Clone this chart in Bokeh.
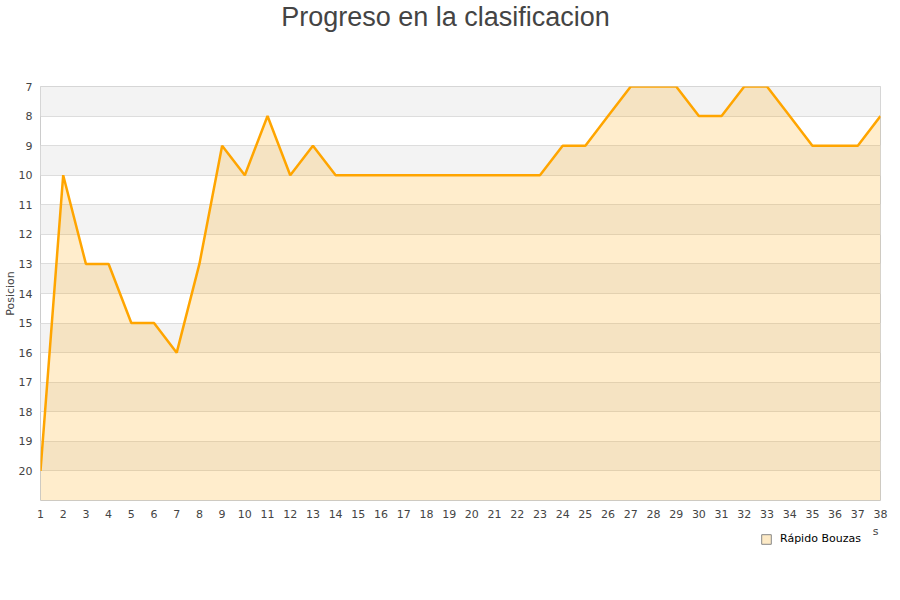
from bokeh.plotting import figure
from bokeh.models import Range1d, FixedTicker, Legend, LegendItem, ColumnDataSource, Label
from bokeh.layouts import column
from bokeh.embed import file_html
from bokeh.resources import INLINE

title_text = "Progreso en la clasificacion"
y_label = "Posicion"
x_label_tail = "s"
team = "Rápido Bouzas"
jornadas = list(range(1, 39))
posiciones = [20, 10, 13, 13, 15, 15, 16, 13, 9, 10, 8, 10, 9, 10, 10, 10, 10, 10, 10,
              10, 10, 10, 10, 9, 9, 8, 7, 7, 7, 8, 8, 7, 7, 8, 9, 9, 9, 8]
y_ticks = list(range(7, 21))
y_bottom = 21


def blank(h):
    # x in page pixels (frame aligned with the chart frame 40..880), y in pixels from bottom
    f = figure(width=900, height=h, output_backend="svg", toolbar_location=None,
               x_range=Range1d(40, 880), y_range=Range1d(0, h),
               x_axis_location=None, y_axis_location=None,
               min_border_left=40, min_border_right=20, min_border_top=0, min_border_bottom=0)
    f.grid.visible = False
    f.outline_line_color = None
    return f


# title strip
p_top = blank(80)
p_top.add_layout(Label(x=445, y=64, text=title_text, text_align="center", text_baseline="alphabetic",
                       text_font="Liberation Sans", text_font_size="27px", text_color="#444444"))

# main chart
p = figure(width=900, height=446, output_backend="svg", toolbar_location=None,
           x_range=Range1d(1, 38), y_range=Range1d(y_bottom, 7),
           min_border_left=40, min_border_right=20, min_border_top=6, min_border_bottom=26)

band_y = [t + 0.5 for t in y_ticks[::2]]
p.hbar(y=band_y, height=1, left=1, right=38, fill_color="#f3f3f3", line_color=None, level="image")

src = ColumnDataSource(dict(x=jornadas, y=posiciones, b=[y_bottom] * len(jornadas)))
p.varea(x="x", y1="y", y2="b", source=src, fill_color="#ffa500", fill_alpha=0.2)
p.line(x="x", y="y", source=src, line_color="#ffa500", line_width=2.5)

p.xaxis.ticker = FixedTicker(ticks=jornadas)
p.yaxis.ticker = FixedTicker(ticks=y_ticks)
for ax in (p.xaxis, p.yaxis):
    ax.major_tick_line_color = None
    ax.minor_tick_line_color = None
    ax.axis_line_color = None
    ax.major_label_text_font = "DejaVu Sans"
    ax.major_label_text_font_size = "11px"
    ax.major_label_text_color = "#444444"
    ax.major_tick_out = 0
    ax.major_tick_in = 0
p.xaxis.major_label_standoff = 9
p.yaxis.major_label_standoff = 8
p.yaxis.axis_label = y_label
p.yaxis.axis_label_standoff = -1
p.yaxis.axis_label_text_font = "DejaVu Sans"
p.yaxis.axis_label_text_font_size = "11px"
p.yaxis.axis_label_text_font_style = "normal"
p.yaxis.axis_label_text_color = "#444444"

p.xgrid.grid_line_color = None
p.ygrid.ticker = FixedTicker(ticks=y_ticks)
p.ygrid.grid_line_color = "#dddddd"
p.ygrid.grid_line_alpha = 1
p.outline_line_color = "#cccccc"

# legend strip (the swatch glyph sits outside the visible range)
p_leg = blank(74)
swatch = p_leg.quad(left=[0], right=[1], top=[-20], bottom=[-30],
                    fill_color="#fdeac6", line_color="#888888")
legend = Legend(items=[LegendItem(label=team, renderers=[swatch])], location=(720, 55),
                glyph_width=12, glyph_height=12, label_standoff=8, padding=0, margin=0,
                border_line_color=None, background_fill_alpha=0, label_height=12,
                label_text_font_size="11px", label_text_font="DejaVu Sans", label_text_color="#000000")
p_leg.add_layout(legend)
p_leg.add_layout(Label(x=875, y=69, text=x_label_tail, text_align="center", text_baseline="alphabetic",
                       text_font="DejaVu Sans", text_font_size="11px", text_color="#444444"))

layout = column(p_top, p, p_leg, spacing=0)
open("out.html", "w").write(file_html(layout, INLINE))
